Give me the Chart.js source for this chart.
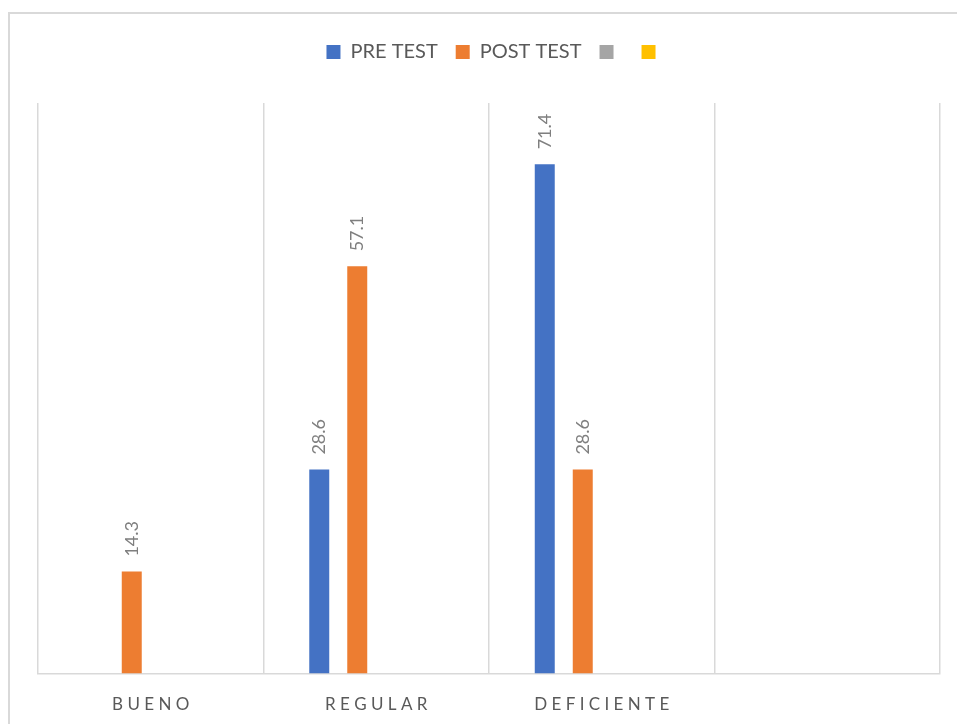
<!DOCTYPE html>
<html>
<head>
<meta charset="utf-8">
<script src="https://cdn.jsdelivr.net/npm/chart.js@4/dist/chart.umd.min.js"></script>
<style>
  html, body { margin: 0; padding: 0; background: #fff; overflow: hidden; width: 957px; height: 724px; }
  #frame { position: absolute; left: 8px; top: 12px; width: 1000px; height: 800px; border: 2px solid #d9d9d9; box-sizing: border-box; }
  #wrap { position: absolute; left: 0; top: 0; width: 957px; height: 736px; }
</style>
</head>
<body>
<div id="frame"></div>
<div id="wrap"><canvas id="c"></canvas></div>
<script>
const categories = ['BUENO', 'REGULAR', 'DEFICIENTE', ''];
const preTest = [null, 28.6, 71.4, null];
const postTest = [14.3, 57.1, 28.6, null];
const series3 = [null, null, null, null];
const series4 = [null, null, null, null];
const seriesNames = ['PRE TEST', 'POST TEST', '', ''];
const seriesColors = ['#4472C4', '#ED7D31', '#A5A5A5', '#FFC000'];

const valueLabels = {
  id: 'valueLabels',
  afterDatasetsDraw(chart) {
    const ctx = chart.ctx;
    chart.data.datasets.forEach((ds, i) => {
      const meta = chart.getDatasetMeta(i);
      meta.data.forEach((bar, j) => {
        const v = ds.data[j];
        if (v === null || v === undefined) return;
        ctx.save();
        ctx.translate(bar.x, bar.y - 15);
        ctx.rotate(-Math.PI / 2);
        ctx.font = '18px Lato, "Open Sans", sans-serif';
        ctx.fillStyle = '#7F7F7F';
        ctx.textAlign = 'left';
        ctx.textBaseline = 'middle';
        ctx.fillText(v.toFixed(1), 0, 0);
        ctx.restore();
      });
    });
  }
};

const legendMargin = {
  id: 'legendMargin',
  beforeInit(chart) {
    const fit = chart.legend.fit;
    chart.legend.fit = function() {
      fit.call(this);
      this.height += 31;
      if (this.lineWidths && this.lineWidths.length) this.lineWidths[0] -= 14;
    };
  }
};

new Chart(document.getElementById('c'), {
  type: 'bar',
  data: {
    labels: categories,
    datasets: [preTest, postTest, series3, series4].map((d, i) => ({
      label: seriesNames[i],
      data: d,
      backgroundColor: seriesColors[i],
      borderWidth: 0,
      barPercentage: 0.526,
      categoryPercentage: 0.674
    }))
  },
  options: {
    responsive: true,
    maintainAspectRatio: false,
    animation: false,
    devicePixelRatio: 1,
    layout: { padding: { left: 38, right: 17, top: 24, bottom: 0 } },
    plugins: {
      legend: {
        position: 'top',
        labels: {
          boxWidth: 14,
          boxHeight: 14,
          padding: 18,
          color: '#595959',
          font: { family: 'Lato, "Open Sans", sans-serif', size: 20 }
        }
      },
      tooltip: { enabled: false },
      title: { display: false }
    },
    scales: {
      x: {
        grid: { display: true, color: '#d9d9d9', lineWidth: 1.5, drawTicks: false, offset: true },
        border: { display: true, color: '#d9d9d9', width: 1.5 },
        ticks: {
          color: '#595959',
          padding: 21,
          font: { family: 'Lato, "Open Sans", sans-serif', size: 17 },
          callback: function(val) { return this.getLabelForValue(val).split('').join(' '); }
        }
      },
      y: {
        display: false,
        min: 0,
        max: 80
      }
    }
  },
  plugins: [valueLabels, legendMargin]
});
</script>
</body>
</html>
